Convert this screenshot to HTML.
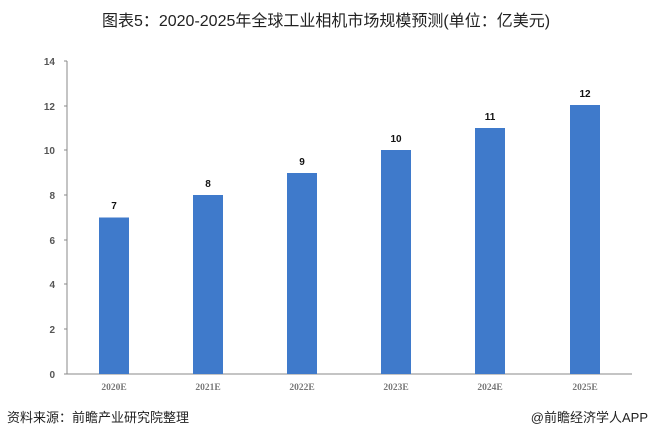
<!DOCTYPE html>
<html><head><meta charset="utf-8"><style>
body{margin:0;background:#fff;}
svg{display:block;}
</style></head><body>
<svg width="650" height="438" xmlns="http://www.w3.org/2000/svg" font-family="'Liberation Sans','Noto Sans CJK SC',sans-serif">
<text x="326" y="26" text-anchor="middle" font-size="16" fill="#222">图表5：2020-2025年全球工业相机市场规模预测(单位：亿美元)</text>
<g stroke="#888" stroke-width="1">
<line x1="67" y1="61" x2="67" y2="374"/>
<line x1="67" y1="374" x2="632" y2="374"/>
<line x1="64" y1="61" x2="67" y2="61"/><line x1="64" y1="106" x2="67" y2="106"/>
<line x1="64" y1="150" x2="67" y2="150"/><line x1="64" y1="195" x2="67" y2="195"/>
<line x1="64" y1="240" x2="67" y2="240"/><line x1="64" y1="284" x2="67" y2="284"/>
<line x1="64" y1="329" x2="67" y2="329"/><line x1="64" y1="374" x2="67" y2="374"/>
</g>
<g font-family="'Liberation Sans',sans-serif" font-weight="bold" font-size="10" fill="#555" text-anchor="end">
<text x="55" y="65">14</text><text x="55" y="110">12</text><text x="55" y="154">10</text>
<text x="55" y="199">8</text><text x="55" y="244">6</text><text x="55" y="288">4</text>
<text x="55" y="333">2</text><text x="55" y="378">0</text>
</g>
<g fill="#3f7acb">
<rect x="99" y="217.5" width="30" height="156.5"/>
<rect x="193" y="195" width="30" height="179"/>
<rect x="287" y="173" width="30" height="201"/>
<rect x="381" y="150" width="30" height="224"/>
<rect x="475" y="128" width="30" height="246"/>
<rect x="570" y="105" width="30" height="269"/>
</g>
<g font-weight="bold" font-size="10" fill="#111" text-anchor="middle">
<text x="114" y="209">7</text><text x="208" y="187">8</text><text x="302" y="165">9</text>
<text x="396" y="142">10</text><text x="490" y="120">11</text><text x="585" y="97">12</text>
</g>
<g font-family="'Liberation Serif',serif" font-weight="bold" font-size="9.5" fill="#777" text-anchor="middle">
<text x="114" y="390">2020E</text><text x="208" y="390">2021E</text><text x="302" y="390">2022E</text>
<text x="396" y="390">2023E</text><text x="490" y="390">2024E</text><text x="585" y="390">2025E</text>
</g>
<text x="7" y="422" font-size="13" fill="#222">资料来源：前瞻产业研究院整理</text>
<text x="648" y="422" font-size="13" fill="#222" text-anchor="end">@前瞻经济学人APP</text>
</svg>
</body></html>
